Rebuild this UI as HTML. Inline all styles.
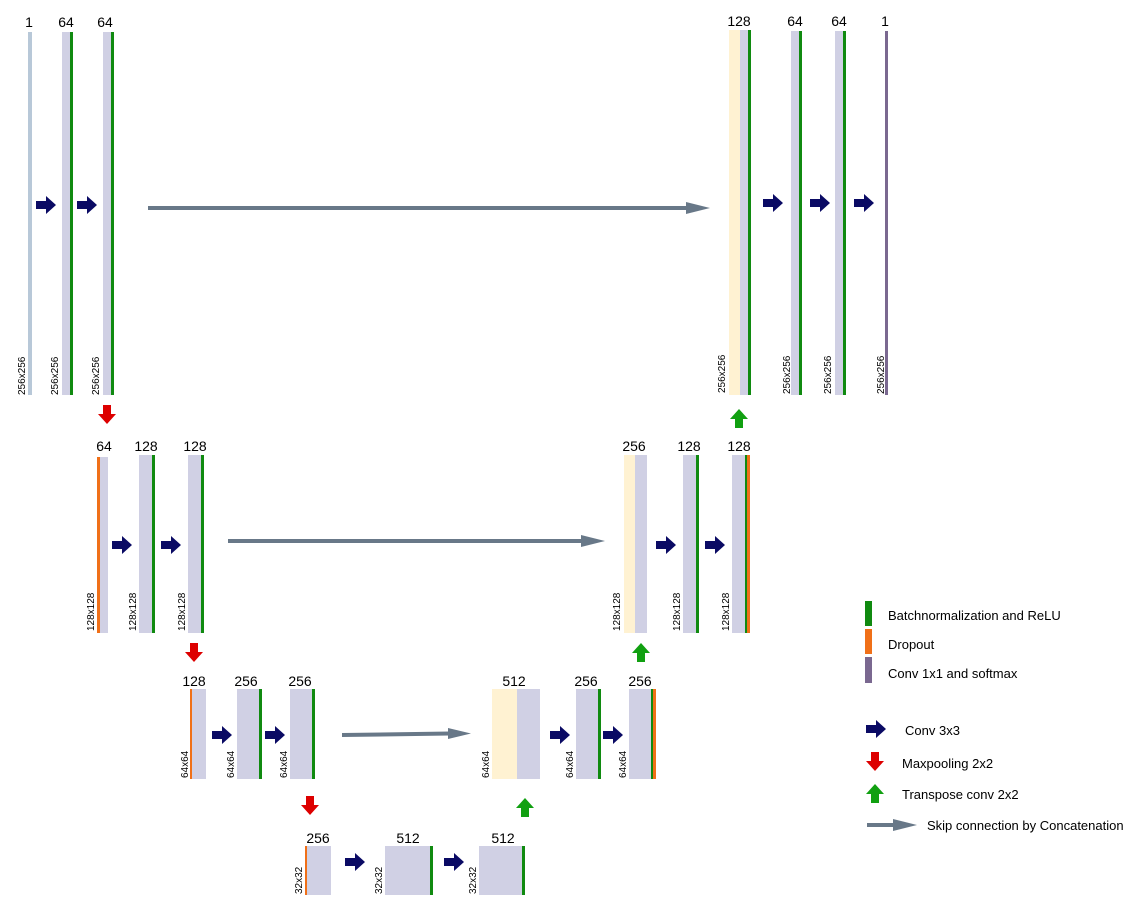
<!DOCTYPE html>
<html><head><meta charset="utf-8"><style>html,body{margin:0;padding:0;background:#fff}svg{display:block}text{font-family:"Liberation Sans",Arial,sans-serif;fill:#000}.n{font-size:14px;text-anchor:middle}.v{font-size:10px}.l{font-size:13px}</style></head><body>
<svg width="1146" height="918" viewBox="0 0 1146 918" xmlns="http://www.w3.org/2000/svg">
<defs>
<path id="cv" d="M0,-4 h10 v-5 l10,9 l-10,9 v-5 h-10 z" fill="#0a0a64"/>
<path id="dn" d="M-4,0 h8 v9 h5 l-9,10 l-9,-10 h5 z" fill="#dd0000"/>
<path id="up" d="M-4,0 h8 v-9 h5 l-9,-10 l-9,10 h5 z" fill="#11a011"/>
</defs>
<g fill="#d0d0e4">
<!-- row1 left -->
<rect x="28" y="32" width="4" height="363" fill="#b8c8d8"/>
<rect x="62" y="32" width="8" height="363"/><rect x="70" y="32" width="3" height="363" fill="#108a10"/>
<rect x="103" y="32" width="8" height="363"/><rect x="111" y="32" width="3" height="363" fill="#108a10"/>
<!-- row1 right -->
<rect x="729" y="30" width="11" height="365" fill="#fff2d2"/><rect x="740" y="30" width="8" height="365"/><rect x="748" y="30" width="3" height="365" fill="#108a10"/>
<rect x="791" y="31" width="8" height="364"/><rect x="799" y="31" width="3" height="364" fill="#108a10"/>
<rect x="835" y="31" width="8" height="364"/><rect x="843" y="31" width="3" height="364" fill="#108a10"/>
<rect x="885" y="31" width="3" height="364" fill="#7a6890"/>
<!-- row2 left -->
<rect x="97" y="457" width="3" height="176" fill="#f07018"/><rect x="100" y="457" width="8" height="176"/>
<rect x="139" y="455" width="13" height="178"/><rect x="152" y="455" width="3" height="178" fill="#108a10"/>
<rect x="188" y="455" width="13" height="178"/><rect x="201" y="455" width="3" height="178" fill="#108a10"/>
<!-- row2 right -->
<rect x="624" y="455" width="11" height="178" fill="#fff2d2"/><rect x="635" y="455" width="12" height="178"/>
<rect x="683" y="455" width="13" height="178"/><rect x="696" y="455" width="3" height="178" fill="#108a10"/>
<rect x="732" y="455" width="13" height="178"/><rect x="745" y="455" width="2" height="178" fill="#108a10"/><rect x="747" y="455" width="3" height="178" fill="#f07018"/>
<!-- row3 left -->
<rect x="190" y="689" width="2" height="90" fill="#f07018"/><rect x="192" y="689" width="14" height="90"/>
<rect x="237" y="689" width="22" height="90"/><rect x="259" y="689" width="3" height="90" fill="#108a10"/>
<rect x="290" y="689" width="22" height="90"/><rect x="312" y="689" width="3" height="90" fill="#108a10"/>
<!-- row3 right -->
<rect x="492" y="689" width="25" height="90" fill="#fff2d2"/><rect x="517" y="689" width="23" height="90"/>
<rect x="576" y="689" width="22" height="90"/><rect x="598" y="689" width="3" height="90" fill="#108a10"/>
<rect x="629" y="689" width="22" height="90"/><rect x="651" y="689" width="2" height="90" fill="#108a10"/><rect x="653" y="689" width="3" height="90" fill="#f07018"/>
<!-- row4 -->
<rect x="305" y="846" width="2" height="49" fill="#f07018"/><rect x="307" y="846" width="24" height="49"/>
<rect x="385" y="846" width="45" height="49"/><rect x="430" y="846" width="3" height="49" fill="#108a10"/>
<rect x="479" y="846" width="43" height="49"/><rect x="522" y="846" width="3" height="49" fill="#108a10"/>
<!-- legend -->
<rect x="865" y="601" width="7" height="25" fill="#108a10"/>
<rect x="865" y="629" width="7" height="25" fill="#f07018"/>
<rect x="865" y="657" width="7" height="26" fill="#7a6890"/>
</g>
<!-- conv arrows -->
<use href="#cv" x="36" y="205"/><use href="#cv" x="77" y="205"/>
<use href="#cv" x="763" y="203"/><use href="#cv" x="810" y="203"/><use href="#cv" x="854" y="203"/>
<use href="#cv" x="112" y="545"/><use href="#cv" x="161" y="545"/>
<use href="#cv" x="656" y="545"/><use href="#cv" x="705" y="545"/>
<use href="#cv" x="212" y="735"/><use href="#cv" x="265" y="735"/>
<use href="#cv" x="550" y="735"/><use href="#cv" x="603" y="735"/>
<use href="#cv" x="345" y="862"/><use href="#cv" x="444" y="862"/>
<use href="#cv" x="866" y="729"/>
<!-- pooling / up -->
<use href="#dn" x="107" y="405"/><use href="#dn" x="194" y="643"/><use href="#dn" x="310" y="796"/><use href="#dn" x="875" y="752"/>
<use href="#up" x="739" y="428"/><use href="#up" x="641" y="662"/><use href="#up" x="525" y="817"/><use href="#up" x="875" y="803"/>
<!-- skip arrows -->
<g fill="#687888" stroke="none">
<rect x="148" y="206" width="540" height="4"/><path d="M686,202 L710,208 L686,214 z"/>
<rect x="228" y="539" width="355" height="4"/><path d="M581,535 L605,541 L581,547 z"/>
<path d="M342,733 L450,731.5 L450,735.5 L342,737 z"/><path d="M448,728 L471,733.5 L448,739 z"/>
<rect x="867" y="823" width="28" height="4"/><path d="M893,819 L917,825 L893,831 z"/>
</g>
<!-- numbers -->
<text class="n" x="29" y="27">1</text><text class="n" x="66" y="27">64</text><text class="n" x="105" y="27">64</text>
<text class="n" x="739" y="26">128</text><text class="n" x="795" y="26">64</text><text class="n" x="839" y="26">64</text><text class="n" x="885" y="26">1</text>
<text class="n" x="104" y="451">64</text><text class="n" x="146" y="451">128</text><text class="n" x="195" y="451">128</text>
<text class="n" x="634" y="451">256</text><text class="n" x="689" y="451">128</text><text class="n" x="739" y="451">128</text>
<text class="n" x="194" y="686">128</text><text class="n" x="246" y="686">256</text><text class="n" x="300" y="686">256</text>
<text class="n" x="514" y="686">512</text><text class="n" x="586" y="686">256</text><text class="n" x="640" y="686">256</text>
<text class="n" x="318" y="843">256</text><text class="n" x="408" y="843">512</text><text class="n" x="503" y="843">512</text>
<!-- vertical dims -->
<g class="v">
<text transform="translate(25,395) rotate(-90)">256x256</text>
<text transform="translate(58,395) rotate(-90)">256x256</text>
<text transform="translate(99,395) rotate(-90)">256x256</text>
<text transform="translate(725,393) rotate(-90)">256x256</text>
<text transform="translate(790,394) rotate(-90)">256x256</text>
<text transform="translate(831,394) rotate(-90)">256x256</text>
<text transform="translate(884,394) rotate(-90)">256x256</text>
<text transform="translate(94,631) rotate(-90)">128x128</text>
<text transform="translate(136,631) rotate(-90)">128x128</text>
<text transform="translate(185,631) rotate(-90)">128x128</text>
<text transform="translate(620,631) rotate(-90)">128x128</text>
<text transform="translate(680,631) rotate(-90)">128x128</text>
<text transform="translate(729,631) rotate(-90)">128x128</text>
<text transform="translate(188,778) rotate(-90)">64x64</text>
<text transform="translate(234,778) rotate(-90)">64x64</text>
<text transform="translate(287,778) rotate(-90)">64x64</text>
<text transform="translate(489,778) rotate(-90)">64x64</text>
<text transform="translate(573,778) rotate(-90)">64x64</text>
<text transform="translate(626,778) rotate(-90)">64x64</text>
<text transform="translate(302,894) rotate(-90)">32x32</text>
<text transform="translate(382,894) rotate(-90)">32x32</text>
<text transform="translate(476,894) rotate(-90)">32x32</text>
</g>
<!-- legend text -->
<g class="l">
<text x="888" y="620">Batchnormalization and ReLU</text>
<text x="888" y="649">Dropout</text>
<text x="888" y="678">Conv 1x1 and softmax</text>
<text x="905" y="735">Conv 3x3</text>
<text x="902" y="768">Maxpooling 2x2</text>
<text x="902" y="799">Transpose conv 2x2</text>
<text x="927" y="830">Skip connection by Concatenation</text>
</g>
</svg>
</body></html>
